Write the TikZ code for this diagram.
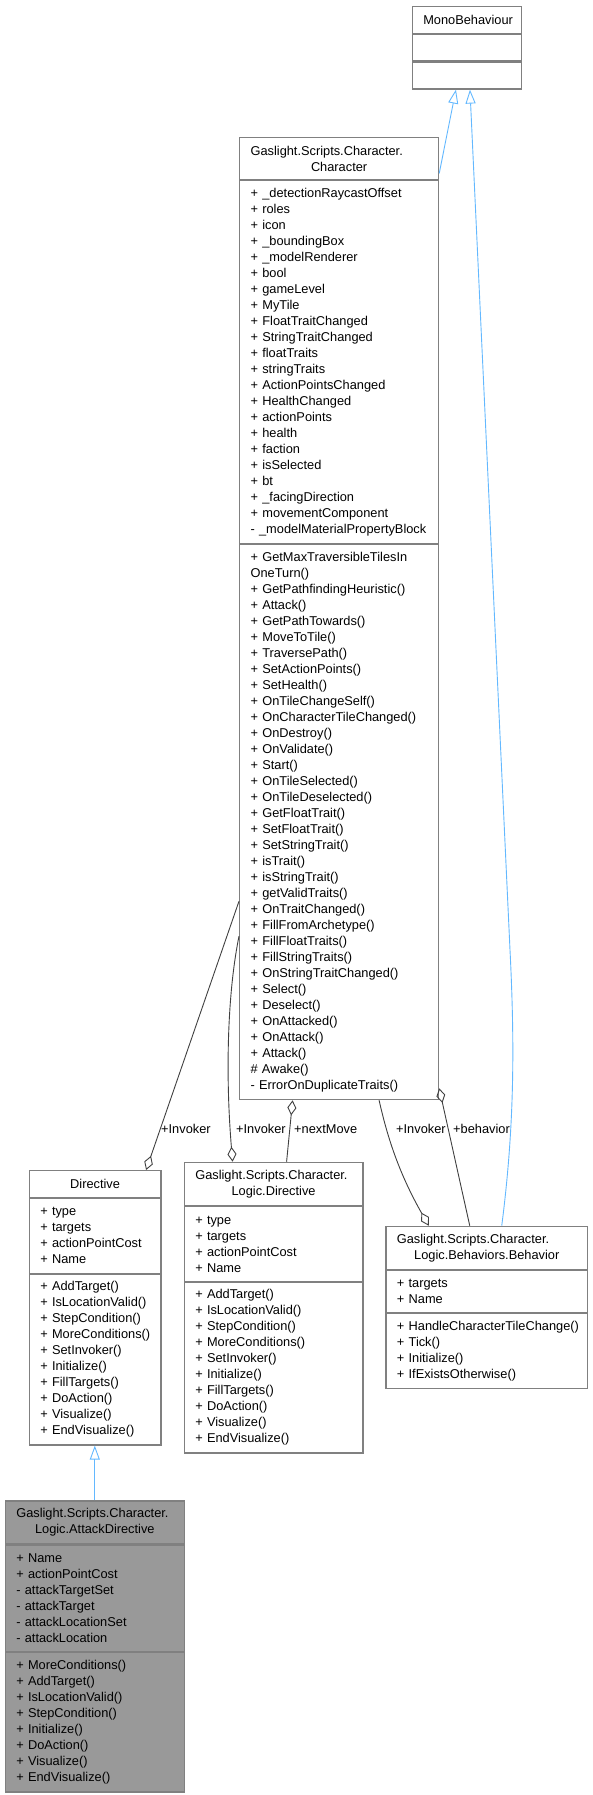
\documentclass[tikz,border=0pt]{standalone}
\usepackage{fontspec}
\setmainfont{Liberation Sans}
\usetikzlibrary{calc,arrows.meta,positioning}
\definecolor{boxc}{HTML}{808080}
\definecolor{aggc}{HTML}{404040}
\definecolor{inhc}{HTML}{63B8FF}
\definecolor{hilite}{HTML}{999999}
\hyphenpenalty=10000
\exhyphenpenalty=10000
\tikzset{
  cls/.style={draw=boxc,line width=1.2pt,fill=white,inner xsep=11pt,inner ysep=0pt,text width=#1},
  hd/.style={cls=#1,align=center},
  cp/.style={cls=#1,align=left},
  inh/.style={-{Triangle[open,length=14pt,width=10pt]},line width=0.9pt,inhc},
  agg/.style={{Diamond[open,length=15pt,width=9pt]}-,line width=0.9pt,aggc},
  lbl/.style={anchor=west,inner sep=0pt}
}
\newcommand{\hdtwo}[2]{\noindent\makebox[\hsize][l]{#1}\\#2}

\begin{document}
\begin{tikzpicture}[x=1pt,y=-1pt,font=\fontsize{12.8}{16}\selectfont]
\useasboundingbox (0,0) rectangle (593,1795);
% MonoBehaviour
\node[hd=87.3pt,minimum height=27pt,anchor=north west] (mono) at (411.7,5.7) {MonoBehaviour};
\node[cp=87.3pt,minimum height=26.6pt,below=0pt of mono] (mono-a) {};
\node[cp=87.3pt,minimum height=26.7pt,below=0pt of mono-a] (mono-o) {};
% Character
\node[hd=177pt,minimum height=42.3pt,anchor=north west] (chr) at (239,136.7) {\hdtwo{Gaslight.Scripts.Character.}{Character}};
\node[cp=177pt,minimum height=362.7pt,below=0pt of chr] (chr-a) {+~\_detectionRaycastOffset\\+~roles\\+~icon\\+~\_boundingBox\\+~\_modelRenderer\\+~bool\\+~gameLevel\\+~MyTile\\+~FloatTraitChanged\\+~StringTraitChanged\\+~floatTraits\\+~stringTraits\\+~ActionPointsChanged\\+~HealthChanged\\+~actionPoints\\+~health\\+~faction\\+~isSelected\\+~bt\\+~\_facingDirection\\+~movementComponent\\-~\_modelMaterialPropertyBlock};
\node[cp=177pt,minimum height=555pt,below=0pt of chr-a] (chr-o) {+~GetMaxTraversibleTilesIn\\OneTurn()\\+~GetPathfindingHeuristic()\\+~Attack()\\+~GetPathTowards()\\+~MoveToTile()\\+~TraversePath()\\+~SetActionPoints()\\+~SetHealth()\\+~OnTileChangeSelf()\\+~OnCharacterTileChanged()\\+~OnDestroy()\\+~OnValidate()\\+~Start()\\+~OnTileSelected()\\+~OnTileDeselected()\\+~GetFloatTrait()\\+~SetFloatTrait()\\+~SetStringTrait()\\+~isTrait()\\+~isStringTrait()\\+~getValidTraits()\\+~OnTraitChanged()\\+~FillFromArchetype()\\+~FillFloatTraits()\\+~FillStringTraits()\\+~OnStringTraitChanged()\\+~Select()\\+~Deselect()\\+~OnAttacked()\\+~OnAttack()\\+~Attack()\\\#~Awake()\\-~ErrorOnDuplicateTraits()};
% Directive
\node[hd=109.6pt,minimum height=26.7pt,anchor=north west] (dir) at (28.7,1170) {Directive};
\node[cp=109.6pt,minimum height=74.6pt,below=0pt of dir] (dir-a) {+~type\\+~targets\\+~actionPointCost\\+~Name};
\node[cp=109.6pt,minimum height=170.7pt,below=0pt of dir-a] (dir-o) {+~AddTarget()\\+~IsLocationValid()\\+~StepCondition()\\+~MoreConditions()\\+~SetInvoker()\\+~Initialize()\\+~FillTargets()\\+~DoAction()\\+~Visualize()\\+~EndVisualize()};
% Logic.Directive
\node[hd=156.6pt,minimum height=43.3pt,anchor=north west] (ldir) at (183.7,1161.7) {\hdtwo{Gaslight.Scripts.Character.}{Logic.Directive}};
\node[cp=156.6pt,minimum height=74.3pt,below=0pt of ldir] (ldir-a) {+~type\\+~targets\\+~actionPointCost\\+~Name};
\node[cp=156.6pt,minimum height=170.7pt,below=0pt of ldir-a] (ldir-o) {+~AddTarget()\\+~IsLocationValid()\\+~StepCondition()\\+~MoreConditions()\\+~SetInvoker()\\+~Initialize()\\+~FillTargets()\\+~DoAction()\\+~Visualize()\\+~EndVisualize()};
% Behavior
\node[hd=179.7pt,minimum height=43pt,anchor=north west] (bh) at (385.3,1225.7) {\hdtwo{Gaslight.Scripts.Character.}{Logic.Behaviors.Behavior}};
\node[cp=179.7pt,minimum height=42pt,below=0pt of bh] (bh-a) {+~targets\\+~Name};
\node[cp=179.7pt,minimum height=74.6pt,below=0pt of bh-a] (bh-o) {+~HandleCharacterTileChange()\\+~Tick()\\+~Initialize()\\+~IfExistsOtherwise()};
% AttackDirective
\node[hd=157pt,fill=hilite,minimum height=43pt,anchor=north west] (atk) at (4.7,1500.3) {\hdtwo{Gaslight.Scripts.Character.}{Logic.AttackDirective}};
\node[cp=157pt,fill=hilite,minimum height=106.4pt,below=0pt of atk] (atk-a) {+~Name\\+~actionPointCost\\-~attackTargetSet\\-~attackTarget\\-~attackLocationSet\\-~attackLocation};
\node[cp=157pt,fill=hilite,minimum height=139.3pt,below=0pt of atk-a] (atk-o) {+~MoreConditions()\\+~AddTarget()\\+~IsLocationValid()\\+~StepCondition()\\+~Initialize()\\+~DoAction()\\+~Visualize()\\+~EndVisualize()};
% inheritance
\draw[inh] ([yshift=-15pt]chr.east) -- ([xshift=-11pt]mono-o.south);
\draw[inh] ([xshift=15pt]bh.north) .. controls (514,1130) and (515,1050) .. (510,950) -- ([xshift=3pt]mono-o.south);
\draw[inh] (atk.north) -- (atk.north |- dir-o.south);
% members
\draw[agg] ([xshift=51pt]dir.north) -- ([yshift=-79pt]chr-o.west);
\draw[agg] ([xshift=-41pt]ldir.north) .. controls (225,1070) and (228,990) .. ([yshift=-114pt]chr-o.west);
\draw[agg] ([xshift=-46.5pt]chr-o.south) -- ([xshift=13pt]ldir.north);
\draw[agg] ([xshift=-58pt]bh.north) .. controls (400,1175) and (388,1140) .. ([xshift=40pt]chr-o.south);
\draw[agg] ([yshift=12pt]chr-o.south east) -- ([xshift=-17pt]bh.north);
\node[lbl] (l-inv1) at (161,1129) {+Invoker};
\node[lbl] (l-inv2) at (236,1129) {+Invoker};
\node[lbl] (l-next) at (294,1129) {+nextMove};
\node[lbl] (l-inv3) at (396,1129) {+Invoker};
\node[lbl] (l-beh) at (453,1129) {+behavior};
\end{tikzpicture}
\end{document}
